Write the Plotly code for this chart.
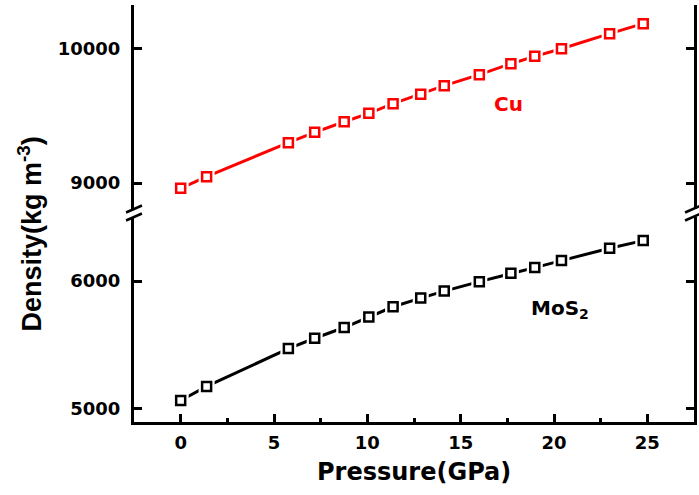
import plotly.graph_objects as go

# ---------------- data ----------------
pressure_gpa = [0.0, 1.39, 5.77, 7.18, 8.76, 10.08, 11.38, 12.86, 14.12,
                16.0, 17.69, 18.97, 20.4, 22.98, 24.78]
density_cu = [8960, 9047, 9301, 9378, 9457, 9520, 9592, 9662, 9726,
              9808, 9890, 9945, 10002, 10114, 10189]
density_mos2 = [5063, 5173, 5470, 5551, 5635, 5717, 5798, 5866, 5921,
                5995, 6061, 6105, 6160, 6257, 6317]

x_range = [-2.5, 27.5]
lower_range = [4894, 6502]
upper_range = [8806, 10328]

x_title = "Pressure(GPa)"
y_title = "Density(kg m<sup>-3</sup>)"
label_cu = "Cu"
label_mos2 = "MoS<sub>2</sub>"

# ---------------- layout constants ----------------
W, H = 699, 495
ML, MR, MT, MB = 134, 2, 5, 73
PW, PH = W - ML - MR, H - MT - MB
lower_dom = [0.0, (PH + MT - 217) / PH]
upper_dom = [(PH + MT - 209) / PH, 1.0]

FONT = "DejaVu Sans"
RED = "#ff0000"
BLACK = "#000000"

fig = go.Figure()


def add_series(x, y, color, yaxis):
    fig.add_trace(go.Scatter(x=x, y=y, mode="lines", yaxis=yaxis,
                             line=dict(color=color, width=3),
                             hoverinfo="skip", showlegend=False))
    fig.add_trace(go.Scatter(x=x, y=y, mode="markers", yaxis=yaxis,
                             marker=dict(symbol="square", size=16, color="white",
                                         line=dict(width=0)),
                             hoverinfo="skip", showlegend=False))
    fig.add_trace(go.Scatter(x=x, y=y, mode="markers", yaxis=yaxis,
                             marker=dict(symbol="square", size=9, color="white",
                                         line=dict(color=color, width=2.5)),
                             showlegend=False))


add_series(pressure_gpa, density_mos2, BLACK, "y")
add_series(pressure_gpa, density_cu, RED, "y2")

tickfont = dict(family=FONT, size=18, color=BLACK, weight="bold")

common_y = dict(showline=True, linewidth=3, linecolor=BLACK, mirror="ticks",
                ticks="inside", ticklen=8, tickwidth=2.5, tickcolor=BLACK,
                dtick=1000, tickformat="d", showgrid=False, zeroline=False,
                tickfont=tickfont, ticklabelstandoff=7)

fig.update_layout(
    width=W, height=H,
    margin=dict(l=ML, r=MR, t=MT, b=MB),
    paper_bgcolor="white", plot_bgcolor="white",
    xaxis=dict(range=x_range, anchor="y", showline=True, linewidth=3,
               linecolor=BLACK, ticks="inside", ticklen=8, tickwidth=2.5,
               tickcolor=BLACK, dtick=5, tick0=0, showgrid=False, zeroline=False,
               tickfont=tickfont, ticklabelstandoff=2,
               minor=dict(dtick=2.5, tick0=0, ticks="inside", ticklen=4,
                          tickwidth=2.5, tickcolor=BLACK, showgrid=False)),
    xaxis2=dict(range=x_range, overlaying="x", anchor="y2", side="top",
                showline=True, linewidth=3, linecolor=BLACK, ticks="inside",
                ticklen=8, tickwidth=2.5, tickcolor=BLACK, dtick=5, tick0=0,
                showgrid=False, zeroline=False, showticklabels=False,
                minor=dict(dtick=2.5, tick0=0, ticks="inside", ticklen=4,
                           tickwidth=2.5, tickcolor=BLACK, showgrid=False)),
    yaxis=dict(range=lower_range, domain=lower_dom, anchor="x", **common_y),
    yaxis2=dict(range=upper_range, domain=upper_dom, anchor="x", **common_y),
)

# axis titles
fig.add_annotation(text=x_title, xref="paper", yref="paper", x=0.5,
                   y=(PH + MT - 472) / PH, xanchor="center", yanchor="middle",
                   showarrow=False,
                   font=dict(family=FONT, size=24, color=BLACK, weight="bold"))
fig.add_annotation(text=y_title, xref="paper", yref="paper",
                   x=(29 - ML) / PW, y=(PH + MT - 234) / PH, textangle=-90,
                   xanchor="center", yanchor="middle", showarrow=False,
                   font=dict(family="Liberation Sans", size=27, color=BLACK,
                             weight="bold"))

# series labels
fig.add_annotation(text=label_cu, x=17.55, y=9586, xref="x", yref="y2",
                   showarrow=False,
                   font=dict(family=FONT, size=20, color=RED, weight="bold"))
fig.add_annotation(text=label_mos2, x=20.3, y=5780, xref="x", yref="y",
                   showarrow=False,
                   font=dict(family=FONT, size=20, color=BLACK, weight="bold"))

# axis-break marks (left and right spines)
def px_to_paper(px, py):
    return (px - ML) / PW, (PH + MT - py) / PH

for sx in (ML, W - MR - 1):
    for gy in (209, 217):
        x0, y0 = px_to_paper(sx - 8, gy + 3.5)
        x1, y1 = px_to_paper(sx + 8, gy - 3.5)
        fig.add_shape(type="line", xref="paper", yref="paper",
                      x0=x0, y0=y0, x1=x1, y1=y1,
                      line=dict(color=BLACK, width=2.5))

fig.write_html("out.html")
